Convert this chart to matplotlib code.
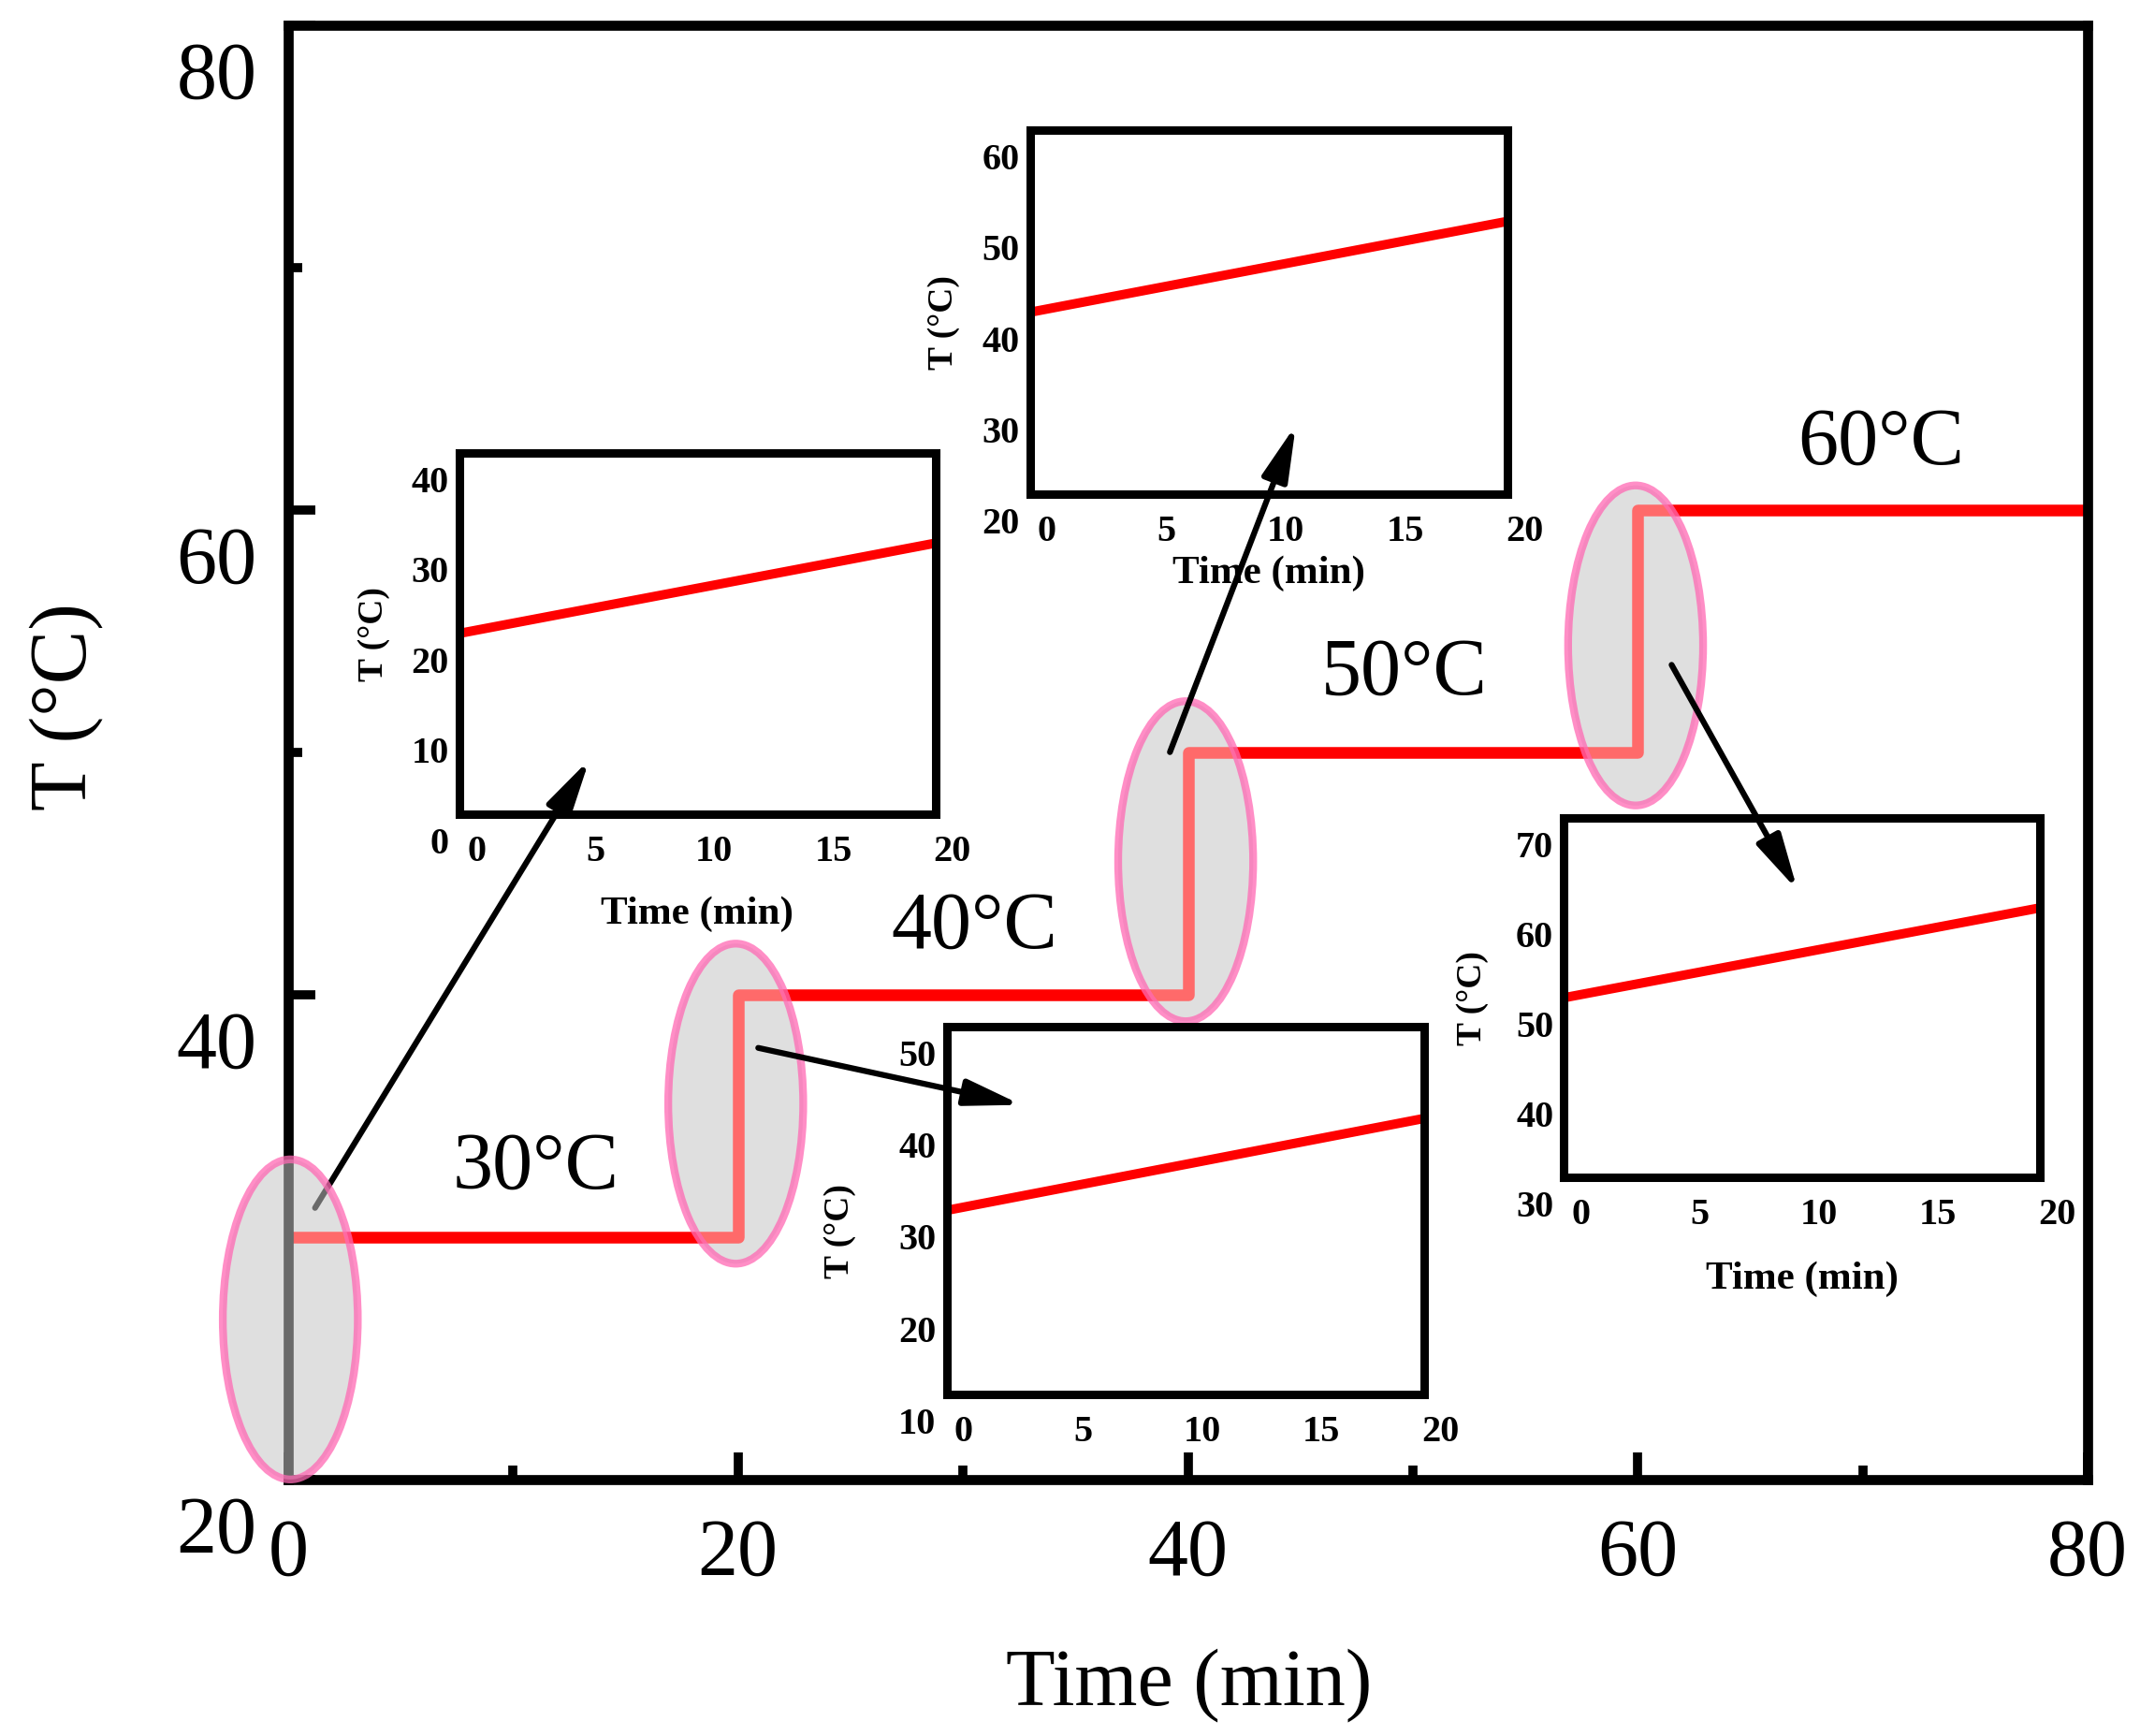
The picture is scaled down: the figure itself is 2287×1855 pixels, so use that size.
import matplotlib
matplotlib.use('Agg')
import matplotlib.pyplot as plt
from matplotlib.patches import Ellipse
from matplotlib.transforms import ScaledTranslation

plt.rcParams['font.family'] = ['Liberation Serif', 'DejaVu Serif']

# main heating programme (step profile)
step_time = [0, 20, 40, 60, 80]
step_temp = [30, 40, 50, 60, 60]

# stage labels
stage_labels = ['30°C', '40°C', '50°C', '60°C']
stage_x = [11.0, 30.5, 49.6, 70.8]
stage_y = [32.8, 42.75, 53.2, 62.7]

# highlighted transitions
ell_x = [0.1, 19.9, 39.9, 59.9]
ell_y = [26.6, 35.5, 45.5, 54.4]
ell_w = 6.0
ell_h = 13.2

# arrows from transitions to insets (main data coords)
arrow_from = [(1.2, 31.2), (20.9, 37.8), (39.2, 50.0), (61.5, 53.6)]
arrow_to = [(13.4, 49.7), (32.6, 35.45), (44.8, 63.5), (67.1, 44.3)]

# insets: ramp over 20 min
inset_t = [0, 20]
inset_start = [20, 40, 30, 50]
inset_end = [30, 50, 40, 60]
inset_ylim = [(0, 40), (20, 60), (10, 50), (30, 70)]
inset_yminor = [[10, 30], [30, 50], [20, 40], [40, 60]]
inset_xticks = [0, 5, 10, 15, 20]
inset_xminor = [5, 10, 15]
inset_has_xlabel = [True, True, False, True]

# layout
inset_rects = [[0.2147, 0.5312, 0.2224, 0.2079],
               [0.4814, 0.7154, 0.2231, 0.2095],
               [0.4423, 0.1968, 0.2231, 0.2119],
               [0.7308, 0.3217, 0.2224, 0.2071]]
inset_xlabel_y = [-0.278, -0.219, None, -0.282]
inset_ylabel_xy = [(-0.179, 0.498), (-0.181, 0.472), (-0.224, 0.444), (-0.193, 0.5)]

fig = plt.figure(figsize=(22.87, 18.55), dpi=100)
ax = fig.add_axes([0.1346, 0.1478, 0.8410, 0.8379])

ax.step(step_time, step_temp, where='post', color='red', lw=9,
        solid_joinstyle='round', solid_capstyle='butt', zorder=2)
ax.set_xlim(0, 80)
ax.set_ylim(20, 80)
ax.set_xticks([0, 20, 40, 60, 80])
ax.set_xticks([10, 30, 50, 70], minor=True)
ax.set_yticks([20, 40, 60, 80])
ax.set_yticks([30, 50, 70], minor=True)
ax.tick_params(which='both', direction='in', width=7, top=False, right=False,
               labelsize=62)
ax.tick_params(which='major', length=21)
ax.tick_params(which='minor', length=11)
ax.tick_params(axis='x', pad=30)
ax.tick_params(axis='y', pad=24)
for s in ax.spines.values():
    s.set_linewidth(7.7)

ax.set_xlabel('Time (min)', fontsize=62, va='center')
ax.xaxis.set_label_coords(0.5008, -0.1415)
ax.set_ylabel('T (°C)', fontsize=62, va='center')
ax.yaxis.set_label_coords(-0.1235, 0.531)

for lab, x, y in zip(stage_labels, stage_x, stage_y):
    ax.text(x, y, lab, fontsize=62, ha='center', va='center')

# ellipses: grey underlay, translucent white overlay, pink rim
for cx, cy in zip(ell_x, ell_y):
    ax.add_patch(Ellipse((cx, cy), ell_w, ell_h, facecolor='#c9c9c9',
                         edgecolor='none', zorder=1, clip_on=False))
    ax.add_patch(Ellipse((cx, cy), ell_w, ell_h, facecolor='white', alpha=0.42,
                         edgecolor='none', zorder=3, clip_on=False))
    ax.add_patch(Ellipse((cx, cy), ell_w, ell_h, facecolor='none',
                         edgecolor='hotpink', alpha=0.75, lw=6, zorder=3.1,
                         clip_on=False))

for i, (p0, p1) in enumerate(zip(arrow_from, arrow_to)):
    ax.annotate('', xy=p1, xytext=p0, annotation_clip=False,
                zorder=2.8 if i == 0 else 4,
                arrowprops=dict(arrowstyle='-|>,head_length=3.6,head_width=0.85',
                                mutation_scale=10, lw=4.5, color='black',
                                shrinkA=0, shrinkB=0))

# shift main y tick labels down as in the original
for lab in ax.get_yticklabels():
    lab.set_transform(lab.get_transform() +
                      ScaledTranslation(0, -0.48, fig.dpi_scale_trans))

for k in range(4):
    iax = fig.add_axes(inset_rects[k])
    iax.set_facecolor('none')
    iax.plot(inset_t, [inset_start[k], inset_end[k]], color='red', lw=7.2,
             solid_capstyle='butt')
    lo, hi = inset_ylim[k]
    iax.set_xlim(0, 20)
    iax.set_ylim(lo, hi)
    iax.set_xticks(inset_xticks)
    iax.set_xticks(inset_xminor, minor=True)
    iax.set_yticks(list(range(lo, hi + 1, 10)))
    iax.set_yticks(inset_yminor[k], minor=True)
    iax.tick_params(which='both', direction='in', top=False, right=False,
                    labelsize=29)
    iax.tick_params(which='major', length=0)
    iax.tick_params(which='minor', length=7, width=4)
    iax.tick_params(axis='x', pad=16)
    iax.tick_params(axis='y', pad=8)
    for s in iax.spines.values():
        s.set_linewidth(6.5)
    for lab in iax.get_xticklabels():
        lab.set_fontweight('bold')
        lab.set_transform(lab.get_transform() +
                          ScaledTranslation(0.18, 0, fig.dpi_scale_trans))
    for lab in iax.get_yticklabels():
        lab.set_fontweight('bold')
        lab.set_transform(lab.get_transform() +
                          ScaledTranslation(0, -0.28, fig.dpi_scale_trans))
    if inset_has_xlabel[k]:
        iax.set_xlabel('Time (min)', fontsize=31, fontweight='bold', va='center')
        iax.xaxis.set_label_coords(0.5, inset_xlabel_y[k])
    iax.set_ylabel('T (°C)', fontsize=27, fontweight='bold', va='center')
    iax.yaxis.set_label_coords(*inset_ylabel_xy[k])

fig.savefig('out.png', dpi=100)
